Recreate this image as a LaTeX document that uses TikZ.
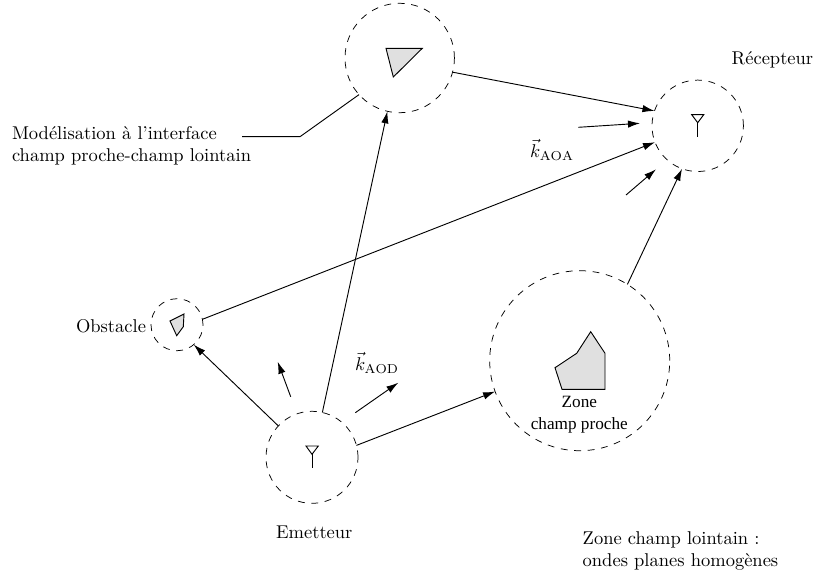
\documentclass[tikz,border=0pt]{standalone}
\usepackage{fontspec}
\usepackage{amsmath}
\usetikzlibrary{arrows.meta,calc}
\newfontfamily\zonefont{Liberation Serif}
\tikzstyle{zone}=[circle,draw,dash pattern=on 3.7pt off 3.6pt,line width=0.4pt,inner sep=0,outer sep=0]
\tikzstyle{ray}=[-{Latex[length=6.5pt,width=4pt]},line width=0.5pt]
\tikzstyle{scatterer}=[draw,fill=black!12,line width=0.5pt,line join=miter]
\tikzstyle{antenna}=[draw,line width=0.5pt]
\tikzstyle{txt}=[inner sep=0,outer sep=0,align=left,font=\fontsize{10}{11.8}\selectfont]
\begin{document}
\begin{tikzpicture}[x=0.019cm,y=-0.019cm]
\useasboundingbox (0,0) rectangle (814,578);
\node[zone,minimum size=2.079cm] (iface) at (399.7,58) {};
\node[zone,minimum size=1.737cm] (recep) at (697.7,125.8) {};
\node[zone,minimum size=0.988cm] (obst) at (177,324.7) {};
\node[zone,minimum size=1.748cm] (emet) at (312,457.3) {};
\node[zone,minimum size=3.42cm] (proche) at (579.7,360.7) {};
% diffracting objects
\draw[scatterer] (386,48.3) -- (422.3,48.3) -- (393.3,77) -- cycle;
\draw[scatterer] (170,321) -- (184,314) -- (183.3,326.7) -- (176.7,335.7) -- cycle;
\draw[scatterer] (555,367.7) -- (576.7,353.3) -- (590.7,331.7) -- (605,353.3) -- (605,389.3) -- (562,389.3) -- cycle;
% antennas
\draw[antenna] (691.7,114.7) -- (703.7,114.7) -- (697.7,122.7) -- cycle;
\draw[antenna] (697.7,122.7) -- (697.7,136.7);
\draw[antenna] (306,446) -- (318.3,446) -- (312,454.3) -- cycle;
\draw[antenna] (312,454.3) -- (312,468.3);
% labels
\node[txt,anchor=west] (lrecep) at (731.7,59.5) {R\'ecepteur};
\node[txt,anchor=east] (lobst) at (146,326) {Obstacle};
\node[txt] (lemet) at (314.3,532) {Emetteur};
\node[txt,anchor=west] (lmodel) at (12,146) {Mod\'elisation \`a l'interface\\champ proche-champ lointain};
\node[txt,anchor=west] (llointain) at (582.7,551) {Zone champ lointain :\\ondes planes homog\`enes};
\node[txt,align=center,font=\zonefont\fontsize{9.3}{11.9}\selectfont] (lproche) at (579.3,414.5) {Zone\\champ proche};
\node[txt] (kaoa) at (552,150) {$\vec{k}_{\mathrm{AOA}}$};
\node[txt] (kaod) at (377,363) {$\vec{k}_{\mathrm{AOD}}$};
% free ends
\coordinate (a1) at (578.3,127.3);
\coordinate (a2) at (640,123.3);
\coordinate (b1) at (626,195);
\coordinate (b2) at (656,169.3);
\coordinate (c1) at (290.7,396.7);
\coordinate (c2) at (277.7,361.7);
\coordinate (d1) at (355.3,412.7);
\coordinate (d2) at (398.3,382.7);
\coordinate (m1) at (242,136.7);
\coordinate (m2) at (300,136.7);
% rays
\draw[ray] (iface.-15) -- (recep.161);
\draw[ray] (obst.12.5) -- (recep.201);
\draw[ray] (proche.58.4) -- (recep.250);
\draw[ray] (emet.77) -- (iface.257.5);
\draw[ray] (emet.137) -- (obst.-50);
\draw[ray] (emet.15.5) -- (proche.200.7);
\draw[ray] (a1) -- (a2);
\draw[ray] (b1) -- (b2);
\draw[ray] (c1) -- (c2);
\draw[ray] (d1) -- (d2);
\draw[line width=0.5pt] (m1) -- (m2) -- (iface.222);
\end{tikzpicture}
\end{document}
